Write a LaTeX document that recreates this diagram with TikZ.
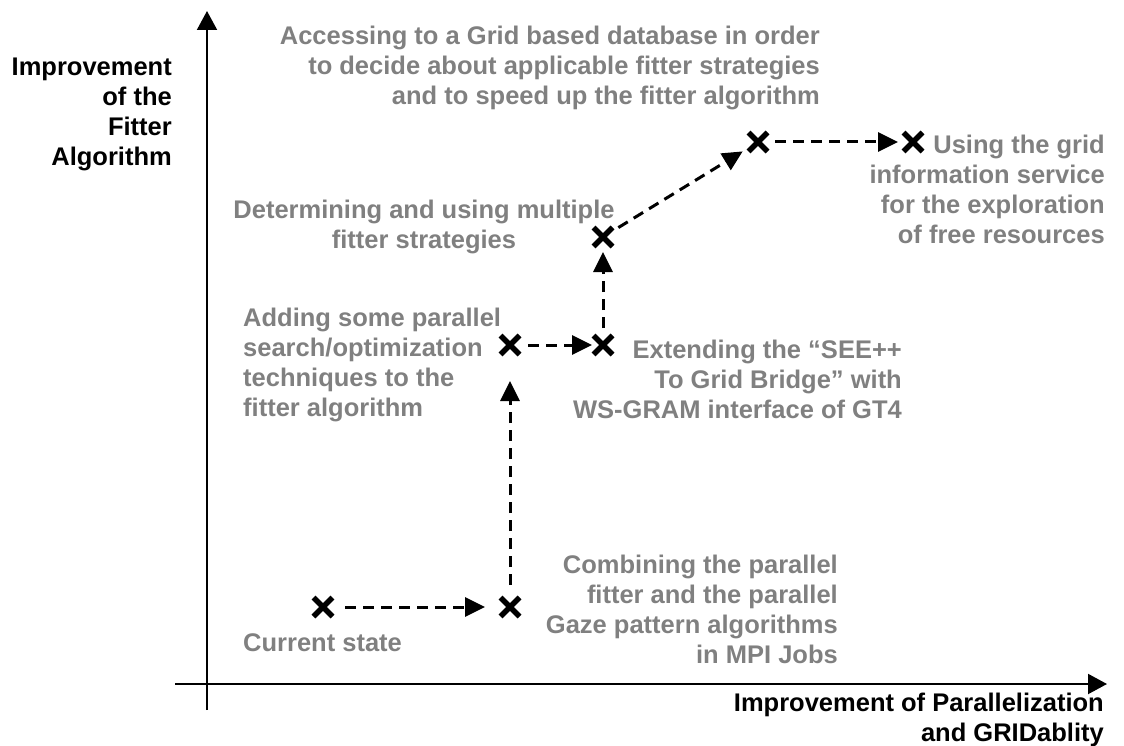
\documentclass[tikz,border=0pt]{standalone}
\usepackage{fontspec}
\setmainfont{Liberation Sans}
\usetikzlibrary{arrows.meta,shapes.misc}
\definecolor{lbl}{RGB}{128,128,128}
\begin{document}
\begin{tikzpicture}[x=1pt,y=-1pt,
  txt/.style={font=\bfseries\fontsize{25.5}{30}\selectfont, inner sep=0pt},
  glabel/.style={txt, text=lbl},
  axis/.style={line width=2pt, -{Triangle[length=19pt,width=20pt]}},
  flow/.style={line width=3pt, dash pattern=on 11pt off 7pt, -{Triangle[length=20pt,width=19pt]}},
  mk/.style={cross out, draw, line width=5.5pt, minimum size=13.5pt, inner sep=0pt}]
\useasboundingbox (0,0) rectangle (1124,746);
% axes
\coordinate (yb) at (207,710);
\coordinate (yt) at (207,11);
\coordinate (xl) at (175,684);
\coordinate (xr) at (1107,684);
\draw[axis] (yb) -- (yt);
\draw[axis] (xl) -- (xr);
% axis labels
\node[txt, anchor=north east, align=right] (ylab) at (172,58) {Improvement\\of the\\Fitter\\Algorithm};
\node[txt, anchor=north east, align=right] (xlab) at (1104,693) {Improvement of Parallelization\\and GRIDablity};
% markers
\node[mk] (m1) at (323,607) {};
\node[mk] (m2) at (510,607) {};
\node[mk] (m3) at (510,345) {};
\node[mk] (m4) at (603,345) {};
\node[mk] (m5) at (603,237) {};
\node[mk] (m6) at (758,142) {};
\node[mk] (m7) at (913,142) {};
% arrows
\draw[flow, shorten <=22pt, shorten >=25pt] (m1.center) -- (m2.center);
\draw[flow, shorten <=22pt, shorten >=36pt] (m2.center) -- (m3.center);
\draw[flow, shorten <=18pt, shorten >=11pt] (m3.center) -- (m4.center);
\draw[flow, shorten <=17pt, shorten >=15pt] (m4.center) -- (m5.center);
\draw[flow, shorten <=18pt, shorten >=18pt] (m5.center) -- (m6.center);
\draw[flow, shorten <=17pt, shorten >=15pt] (m6.center) -- (m7.center);
% labels
\node[glabel, anchor=north west, align=left] (l1) at (243,633) {Current state};
\node[glabel, anchor=north east, align=right] (l2) at (838,555) {Combining the parallel\\fitter and the parallel\\Gaze pattern algorithms\\in MPI Jobs};
\node[glabel, anchor=north west, align=left] (l3) at (243,308) {Adding some parallel\\search/optimization\\techniques to the\\fitter algorithm};
\node[glabel, anchor=north east, align=right] (l4) at (902,340) {Extending the “SEE++\\To Grid Bridge” with\\WS-GRAM interface of GT4};
\node[glabel, anchor=north, align=center] (l5) at (424,200) {Determining and using multiple\\fitter strategies};
\node[glabel, anchor=north east, align=right] (l6) at (820,26) {Accessing to a Grid based database in order\\to decide about applicable fitter strategies\\and to speed up the fitter algorithm};
\node[glabel, anchor=north east, align=right] (l7) at (1105,135) {Using the grid\\information service\\for the exploration\\of free resources};
\end{tikzpicture}
\end{document}
